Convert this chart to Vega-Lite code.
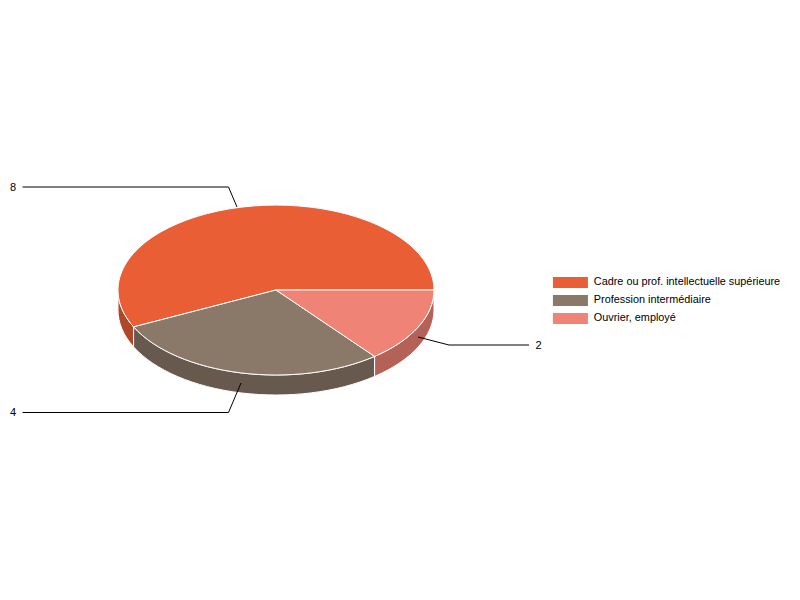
{
  "$schema": "https://vega.github.io/schema/vega-lite/v6.json",
  "width": 552,
  "height": 580,
  "autosize": "none",
  "padding": {"left": 0, "top": 0, "right": 248, "bottom": 20},
  "background": "white",
  "data": {
    "values": [
      {"categorie": "Cadre ou prof. intellectuelle supérieure", "effectif": 8},
      {"categorie": "Profession intermédiaire", "effectif": 4},
      {"categorie": "Ouvrier, employé", "effectif": 2}
    ]
  },
  "layer": [
    {
      "mark": {"type": "point", "filled": true, "opacity": 1, "stroke": "white", "strokeWidth": 1, "size": 4},
      "encoding": {
        "shape": {
          "field": "effectif",
          "type": "nominal",
          "legend": null,
          "scale": {
            "domain": [8, 4, 2],
            "range": [
              "M-158,0A158,85 0 0 0 -142.4,36.9L-142.4,56.9A158,85 0 0 1 -158,20Z",
              "M-142.4,36.9A158,85 0 0 0 98.6,66.4L98.6,86.4A158,85 0 0 1 -142.4,56.9Z",
              "M98.6,66.4A158,85 0 0 0 158,0L158,20A158,85 0 0 1 98.6,86.4Z"
            ]
          }
        },
        "color": {
          "field": "categorie",
          "legend": null,
          "scale": {
            "domain": ["Cadre ou prof. intellectuelle supérieure", "Profession intermédiaire", "Ouvrier, employé"],
            "range": ["#B04728", "#67594D", "#B46258"]
          }
        }
      }
    },
    {
      "mark": {"type": "point", "filled": true, "opacity": 1, "stroke": "white", "strokeWidth": 1, "size": 4},
      "encoding": {
        "shape": {
          "field": "effectif",
          "type": "nominal",
          "legend": null,
          "scale": {
            "domain": [8, 4, 2],
            "range": [
              "M0,0L158,0A158,85 0 1 0 -142.4,36.9Z",
              "M0,0L-142.4,36.9A158,85 0 0 0 98.6,66.4Z",
              "M0,0L98.6,66.4A158,85 0 0 0 158,0Z"
            ]
          }
        },
        "color": {
          "field": "categorie",
          "scale": {
            "domain": ["Cadre ou prof. intellectuelle supérieure", "Profession intermédiaire", "Ouvrier, employé"],
            "range": ["#EA5E36", "#8A7869", "#EF8375"]
          },
          "legend": {
            "title": null,
            "orient": "none",
            "legendX": 548.5,
            "legendY": 277,
            "symbolType": "M-1,-5.5H34V5.5H-1Z",
            "symbolSize": 4,
            "symbolStrokeWidth": 0,
            "labelOffset": 34.5,
            "labelFont": "Liberation Sans",
            "labelFontSize": 10.85,
            "labelColor": "black",
            "labelLimit": 300,
            "rowPadding": 6,
            "padding": 0
          }
        }
      }
    },
    {
      "mark": {"type": "point", "filled": false, "opacity": 1, "stroke": "black", "strokeWidth": 1, "size": 4},
      "encoding": {
        "shape": {
          "field": "effectif",
          "type": "nominal",
          "legend": null,
          "scale": {
            "domain": [8, 4, 2],
            "range": [
              "M-253.5,-103L-47.5,-103L-39,-83",
              "M-253.5,122.5L-47.5,122.5L-35,93",
              "M142,47L173,55L253,55"
            ]
          }
        }
      }
    },
    {
      "mark": {"type": "text", "font": "Liberation Sans", "fontSize": 11, "color": "black", "baseline": "middle"},
      "encoding": {
        "x": {"field": "effectif", "type": "quantitative", "axis": null, "scale": {"domain": [2, 4, 8], "range": [538.5, 13, 13], "zero": false, "nice": false}},
        "y": {"field": "effectif", "type": "quantitative", "axis": null, "scale": {"domain": [2, 4, 8], "range": [345.5, 413, 187.5], "zero": false, "nice": false}},
        "text": {"field": "effectif", "type": "quantitative"}
      }
    }
  ],
  "resolve": {"scale": {"shape": "independent", "color": "independent"}},
  "config": {"view": {"stroke": null}}
}
